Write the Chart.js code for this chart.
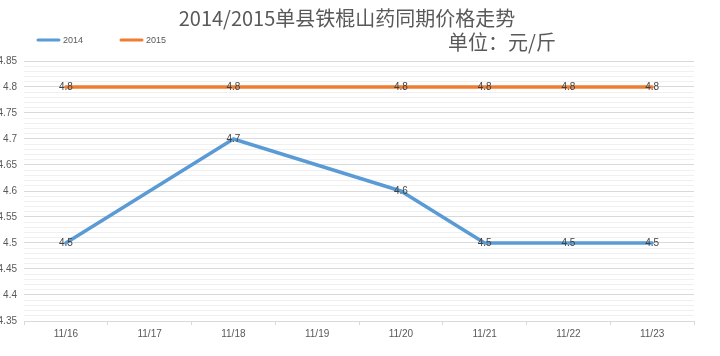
<!DOCTYPE html>
<html>
<head>
<meta charset="utf-8">
<script src="https://cdn.jsdelivr.net/npm/chart.js@4/dist/chart.umd.min.js"></script>
<style>
html,body{margin:0;padding:0;background:#fff;}
canvas{display:block;}
</style>
</head>
<body>
<canvas id="c" width="720" height="356"></canvas>
<script>
const titleText = '2014/2015单县铁棍山药同期价格走势';
const unitText = '单位：元/斤';
const categories = ['11/16','11/17','11/18','11/19','11/20','11/21','11/22','11/23'];
const seriesNames = ['2014','2015'];
const values2014 = [4.5, null, 4.7, null, 4.6, 4.5, 4.5, 4.5];
const values2015 = [4.8, null, 4.8, null, 4.8, 4.8, 4.8, 4.8];
const yMin = 4.35, yMax = 4.85, yMinorStep = 0.01, yMajorEvery = 5;

const colors = ['#5B9BD5', '#ED7D31'];
const textGray = '#595959';
const axisFont = {family: '"Liberation Sans", Arial, sans-serif', size: 10};

const isMajor = v => Math.abs(Math.round(v / yMinorStep) % yMajorEvery) === 0;

const overlayPlugin = {
  id: 'overlay',
  afterDatasetsDraw(chart) {
    const ctx = chart.ctx;
    ctx.save();
    ctx.font = '10px "Liberation Sans", Arial, sans-serif';
    ctx.fillStyle = '#404040';
    ctx.textAlign = 'center';
    ctx.textBaseline = 'middle';
    chart.data.datasets.forEach((ds, i) => {
      const meta = chart.getDatasetMeta(i);
      meta.data.forEach((pt, j) => {
        const v = ds.data[j];
        if (v === null || v === undefined) return;
        ctx.fillText(String(v), pt.x, pt.y + 0.5);
      });
    });
    ctx.restore();
  },
  afterDraw(chart) {
    const ctx = chart.ctx;
    ctx.save();
    const legendY = 40;
    const starts = [37, 120];
    chart.data.datasets.forEach((ds, i) => {
      const x = starts[i];
      ctx.strokeStyle = ds.borderColor;
      ctx.lineWidth = 3;
      ctx.lineCap = 'round';
      ctx.beginPath();
      ctx.moveTo(x + 1, legendY);
      ctx.lineTo(x + 22, legendY);
      ctx.stroke();
      ctx.font = '9px "Liberation Sans", Arial, sans-serif';
      ctx.fillStyle = textGray;
      ctx.textAlign = 'left';
      ctx.textBaseline = 'middle';
      ctx.fillText(ds.label, x + 26, legendY + 0.5);
    });
    ctx.font = '20px "Noto Sans CJK SC", sans-serif';
    ctx.fillStyle = textGray;
    ctx.textAlign = 'center';
    ctx.textBaseline = 'middle';
    ctx.fillText(unitText, 502, 42);
    ctx.restore();
  }
};

new Chart(document.getElementById('c'), {
  type: 'line',
  data: {
    labels: categories,
    datasets: [
      {label: seriesNames[0], data: values2014, borderColor: colors[0], backgroundColor: colors[0],
       borderWidth: 3.5, pointRadius: 0, spanGaps: true, tension: 0,
       borderCapStyle: 'round', borderJoinStyle: 'round'},
      {label: seriesNames[1], data: values2015, borderColor: colors[1], backgroundColor: colors[1],
       borderWidth: 3.5, pointRadius: 0, spanGaps: true, tension: 0,
       borderCapStyle: 'round', borderJoinStyle: 'round'}
    ]
  },
  options: {
    responsive: false,
    animation: false,
    layout: {padding: {left: 0, right: 26, top: 0, bottom: 13}},
    plugins: {
      legend: {display: false},
      tooltip: {enabled: false},
      title: {
        display: true,
        text: titleText,
        color: textGray,
        font: {family: '"Noto Sans CJK SC", sans-serif', size: 20, weight: 'normal', lineHeight: 1.2},
        padding: {top: 6, bottom: 31}
      }
    },
    scales: {
      x: {
        offset: true,
        grid: {display: true, offset: true, drawOnChartArea: false, drawTicks: true, tickLength: 4, color: '#d9d9d9'},
        border: {display: true, color: '#d9d9d9', width: 1},
        ticks: {color: textGray, font: axisFont, padding: 3, maxRotation: 0, autoSkip: false}
      },
      y: {
        min: yMin,
        max: yMax,
        afterFit(scale) { scale.width = 24; },
        border: {display: false},
        grid: {
          drawTicks: false,
          color: c => isMajor(c.tick.value) ? '#d9d9d9' : '#f0f0f0',
          lineWidth: 1
        },
        ticks: {
          stepSize: yMinorStep,
          autoSkip: false,
          color: textGray,
          font: axisFont,
          padding: 7,
          callback: v => isMajor(v) ? String(parseFloat(v.toFixed(2))) : ''
        }
      }
    }
  },
  plugins: [overlayPlugin]
});
</script>
</body>
</html>
